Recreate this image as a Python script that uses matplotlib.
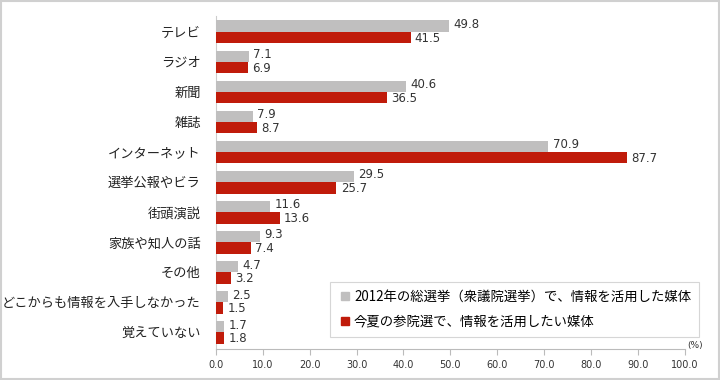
import matplotlib
matplotlib.use("Agg")
import matplotlib.pyplot as plt
from matplotlib.patches import Rectangle
from matplotlib.lines import Line2D
import numpy as np

plt.rcParams['font.family'] = ['Noto Sans CJK JP', 'DejaVu Sans']

categories = ["テレビ", "ラジオ", "新聞", "雑誌", "インターネット", "選挙公報やビラ",
              "街頭演説", "家族や知人の話", "その他", "どこからも情報を入手しなかった", "覚えていない"]
series_2012 = [49.8, 7.1, 40.6, 7.9, 70.9, 29.5, 11.6, 9.3, 4.7, 2.5, 1.7]
series_now = [41.5, 6.9, 36.5, 8.7, 87.7, 25.7, 13.6, 7.4, 3.2, 1.5, 1.8]
legend_labels = ["2012年の総選挙（衆議院選挙）で、情報を活用した媒体",
                 "今夏の参院選で、情報を活用したい媒体"]
xticks = [0, 10, 20, 30, 40, 50, 60, 70, 80, 90, 100]

gray = "#C0BFBF"
red = "#C01B0A"

fig = plt.figure(figsize=(7.2, 3.8), dpi=100)
ax = fig.add_axes([0.3, 0.082, 0.651, 0.876])

y = np.arange(len(categories))
h = 0.38
ax.barh(y - h / 2, series_2012, height=h, color=gray, zorder=3)
ax.barh(y + h / 2, series_now, height=h, color=red, zorder=3)

for yi, v in zip(y, series_2012):
    ax.text(v + 0.9, yi - h / 2 - 0.05, f"{v:.1f}", va="center", ha="left",
            fontsize=8.5, family="DejaVu Sans", color="#333333")
for yi, v in zip(y, series_now):
    ax.text(v + 0.9, yi + h / 2 + 0.02, f"{v:.1f}", va="center", ha="left",
            fontsize=8.5, family="DejaVu Sans", color="#333333")

ax.set_ylim(len(categories) - 0.45, -0.53)
ax.set_xlim(0, 100)
ax.set_yticks(y)
ax.set_yticklabels(categories, fontsize=9.5, color="#222222")
ax.tick_params(axis="y", length=0, pad=11)
ax.set_xticks(xticks)
ax.set_xticklabels([f"{t:.1f}" for t in xticks], fontsize=7, family="DejaVu Sans", color="#333333")
ax.tick_params(axis="x", length=4, color="#BBBBBB", pad=4)

for s in ["top", "right"]:
    ax.spines[s].set_visible(False)
ax.spines["left"].set_color("#CCCCCC")
ax.spines["bottom"].set_color("#BBBBBB")

ax.text(1.005, -0.004, "(%)", transform=ax.transAxes, fontsize=6.5,
        family="DejaVu Sans", color="#333333", ha="left", va="bottom")

handles = [Line2D([], [], marker="s", linestyle="none", markersize=6, color=gray),
           Line2D([], [], marker="s", linestyle="none", markersize=6, color=red)]
leg = fig.legend(handles, legend_labels, loc="upper left",
                 bbox_to_anchor=(330 / 720, 1 - 282 / 380), fontsize=9.6,
                 frameon=True, fancybox=False, edgecolor="#CCCCCC", borderaxespad=0,
                 handletextpad=0.2, handlelength=1.0, borderpad=0.6, labelspacing=0.8)
leg.get_frame().set_linewidth(0.8)

fig.patches.append(Rectangle((0.001, 0.002), 0.997, 0.995, transform=fig.transFigure,
                             fill=False, edgecolor="#D0D0D0", linewidth=1.5))

fig.savefig("out.png", dpi=100)
